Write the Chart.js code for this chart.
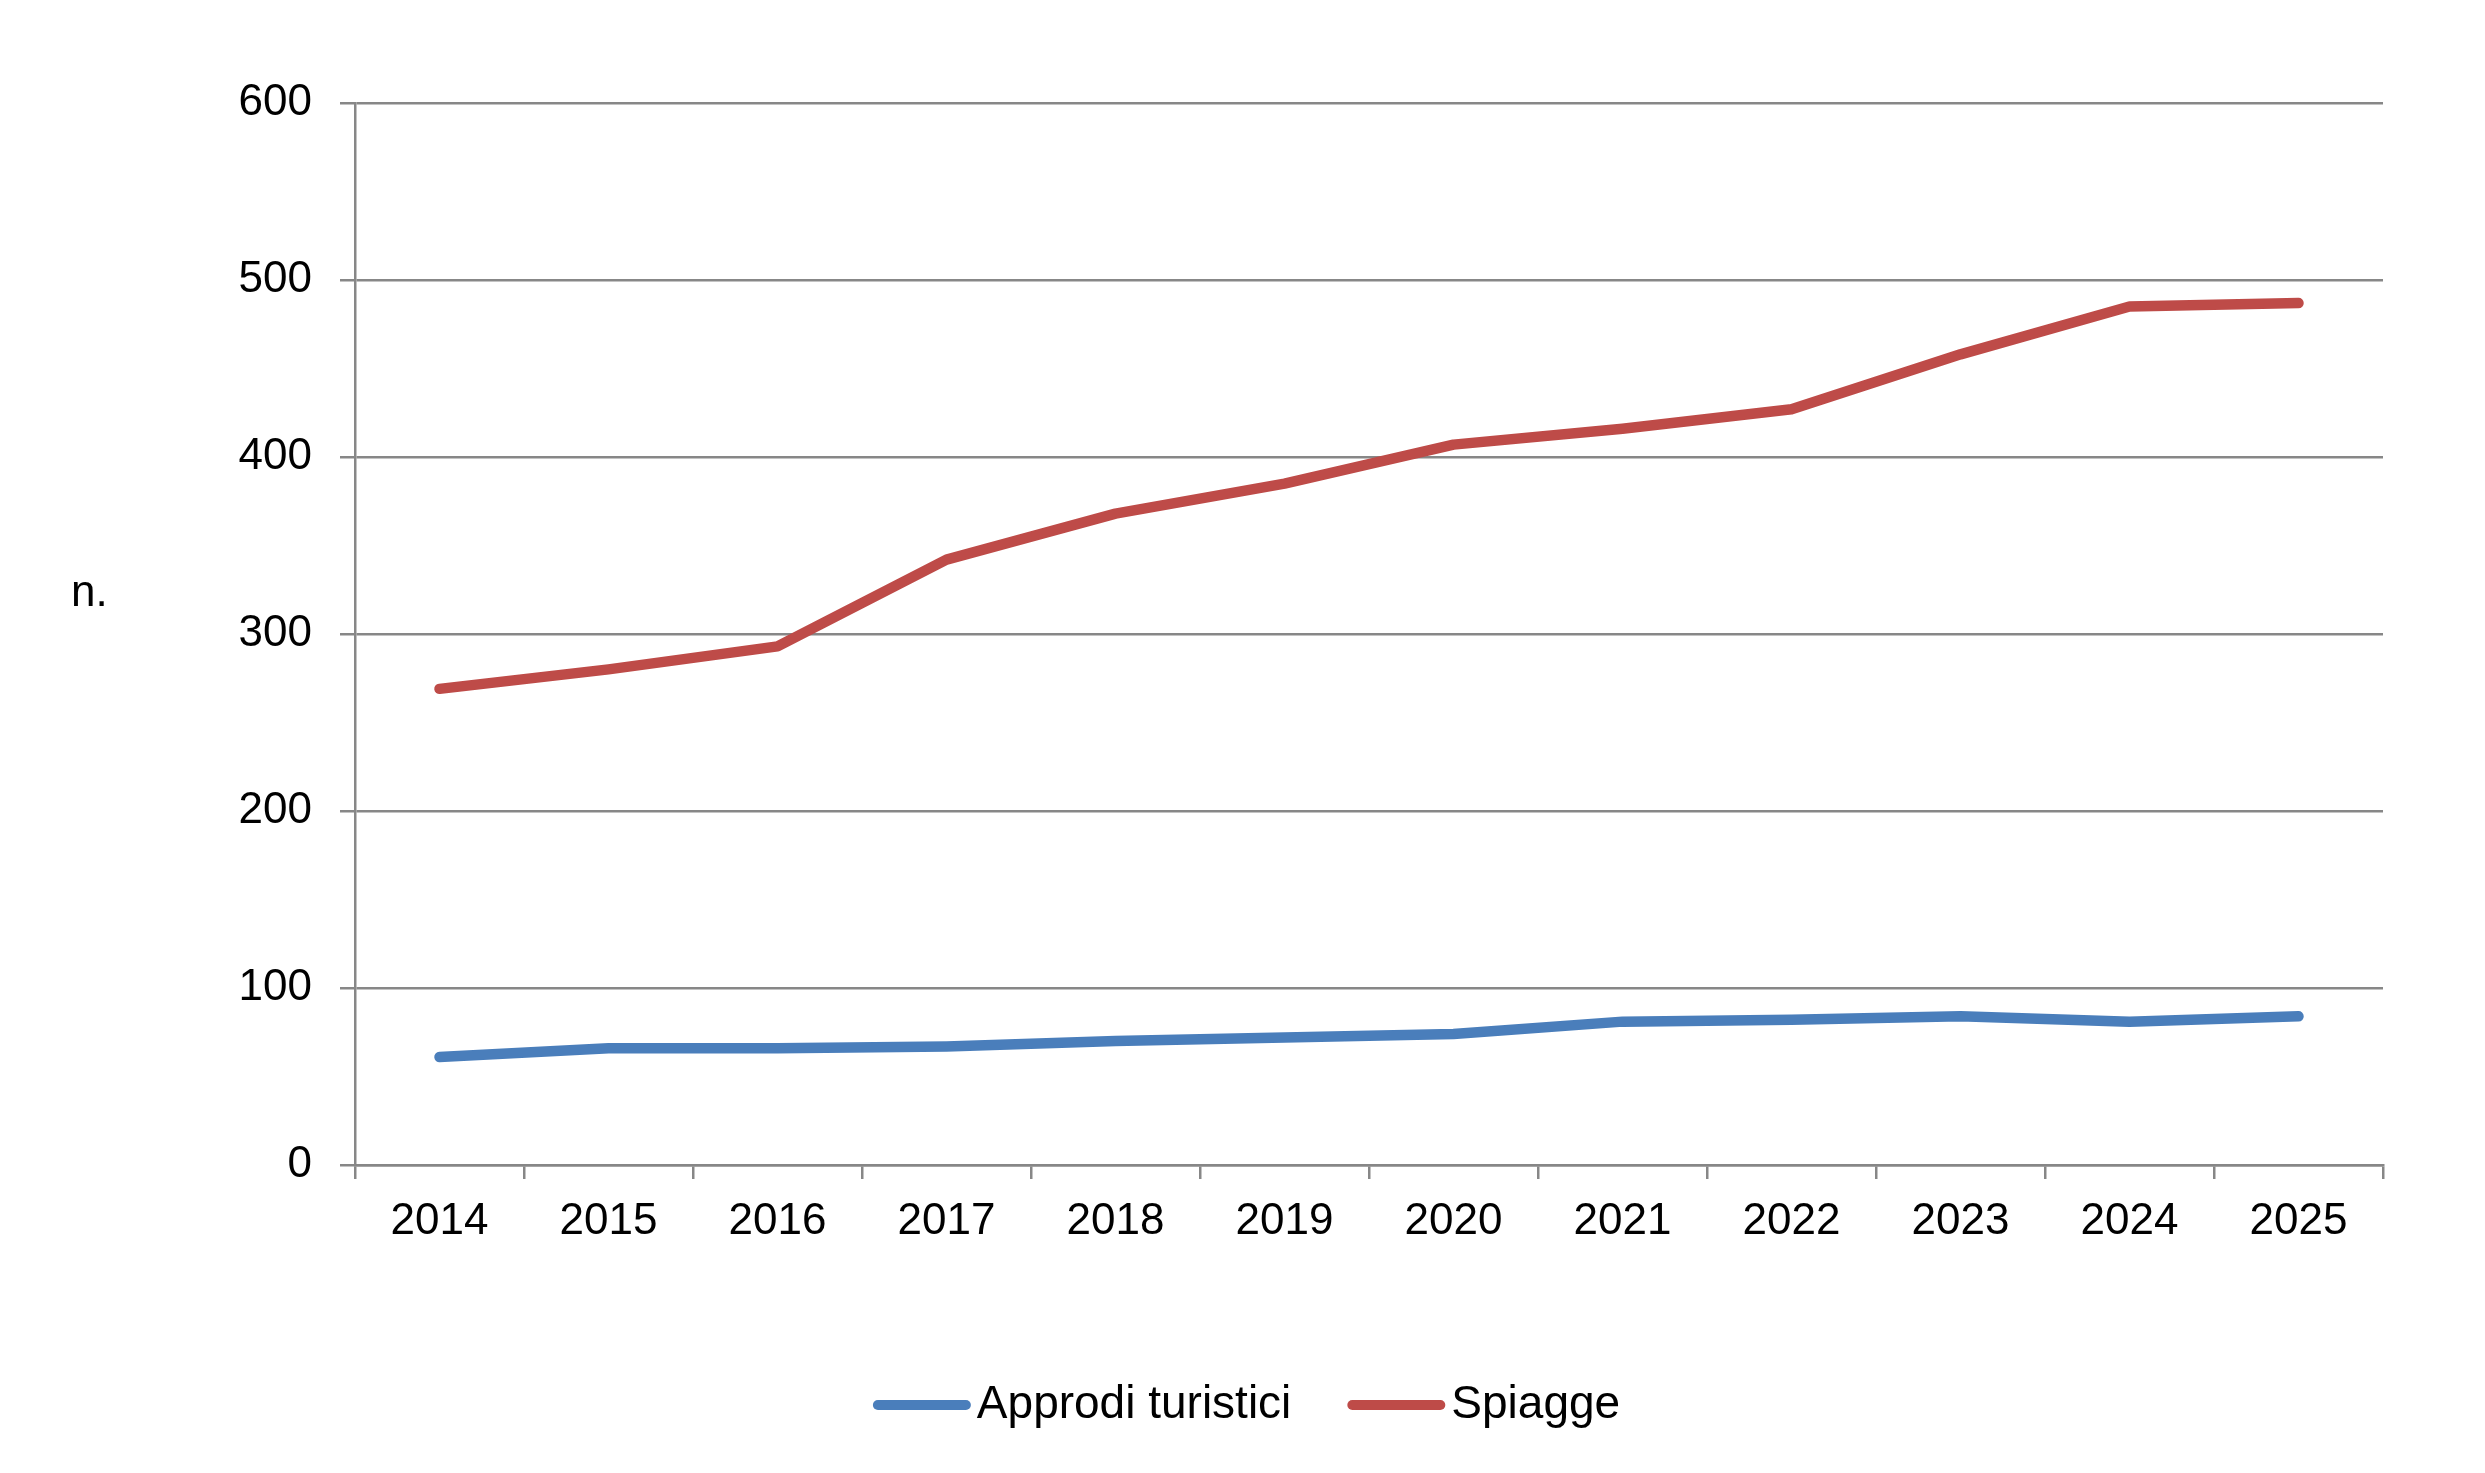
<!DOCTYPE html>
<html lang="it">
<head>
<meta charset="utf-8">
<title>Approdi turistici e spiagge</title>
<script src="https://cdn.jsdelivr.net/npm/chart.js@4.4.1/dist/chart.umd.min.js"></script>
<style>
  html, body { margin: 0; padding: 0; background: #ffffff; }
  #chart { display: block; }
</style>
</head>
<body>
<canvas id="chart" width="2485" height="1473"></canvas>
<script>
'use strict';

// Dati
const years = ['2014', '2015', '2016', '2017', '2018', '2019', '2020', '2021', '2022', '2023', '2024', '2025'];
const approdi = [61, 66, 66, 67, 70, 72, 74, 81, 82, 84, 81, 84];
const spiagge = [269, 280, 293, 342, 368, 385, 407, 416, 427, 458, 485, 487];
const yTicks = [0, 100, 200, 300, 400, 500, 600];

const FONT = 'Liberation Sans, Arial, Helvetica, sans-serif';
const GRID = '#878787';

// testo "n." a sinistra dell'asse y
const unitLabel = {
  id: 'unitLabel',
  afterDraw(chart) {
    const ctx = chart.ctx;
    ctx.save();
    ctx.font = '44px ' + FONT;
    ctx.fillStyle = '#000';
    ctx.textAlign = 'left';
    ctx.textBaseline = 'middle';
    ctx.fillText('n.', 71, 594);
    ctx.restore();
  }
};

// legenda in basso, stile Excel (linea corta + testo vicino)
const bottomLegend = {
  id: 'bottomLegend',
  afterDraw(chart) {
    const ctx = chart.ctx;
    const sets = chart.data.datasets;
    const lineLen = 98, gapText = 6, gapItem = 56, cy = 1405;
    ctx.save();
    ctx.font = '46px ' + FONT;
    const widths = sets.map(ds => lineLen + gapText + ctx.measureText(ds.label).width);
    const total = widths.reduce((a, b) => a + b, 0) + gapItem * (sets.length - 1);
    let x = chart.width / 2 - total / 2 + 4;
    sets.forEach((ds, i) => {
      ctx.strokeStyle = ds.borderColor;
      ctx.lineWidth = 10;
      ctx.lineCap = 'round';
      ctx.beginPath();
      ctx.moveTo(x + 5, cy);
      ctx.lineTo(x + lineLen - 5, cy);
      ctx.stroke();
      ctx.fillStyle = '#000';
      ctx.textAlign = 'left';
      ctx.textBaseline = 'middle';
      ctx.fillText(ds.label, x + lineLen + gapText, cy);
      x += widths[i] + gapItem;
    });
    ctx.restore();
  }
};

new Chart(document.getElementById('chart'), {
  type: 'line',
  data: {
    labels: years,
    datasets: [
      {
        label: 'Approdi turistici',
        data: approdi,
        borderColor: '#4A7EBB',
        backgroundColor: '#4A7EBB',
        borderWidth: 10.5,
      },
      {
        label: 'Spiagge',
        data: spiagge,
        borderColor: '#BE4B48',
        backgroundColor: '#BE4B48',
        borderWidth: 10.5,
      },
    ],
  },
  options: {
    responsive: false,
    animation: false,
    devicePixelRatio: 1,
    elements: {
      point: { radius: 0, hoverRadius: 0 },
      line: { tension: 0, borderCapStyle: 'round', borderJoinStyle: 'round' },
    },
    layout: { padding: { top: 103, right: 102, bottom: 151, left: 0 } },
    plugins: {
      tooltip: { enabled: false },
      legend: { display: false },
    },
    scales: {
      x: {
        offset: true,
        grid: {
          offset: true,
          drawOnChartArea: false,
          drawTicks: true,
          tickLength: 14,
          color: GRID,
          lineWidth: 2.5,
        },
        border: { color: GRID, width: 2.5 },
        ticks: {
          color: '#000',
          padding: 16,
          maxRotation: 0,
          font: { family: FONT, size: 44 },
        },
        afterFit(scale) { scale.height = 157; },
      },
      y: {
        min: 0,
        max: 600,
        afterBuildTicks(scale) { scale.ticks = yTicks.map(v => ({ value: v })); },
        grid: {
          color: GRID,
          lineWidth: 2.5,
          tickLength: 15,
        },
        border: { color: GRID, width: 2.5 },
        ticks: {
          color: '#000',
          padding: 28,
          font: { family: FONT, size: 44 },
        },
        afterFit(scale) { scale.width = 355; },
      },
    },
  },
  plugins: [unitLabel, bottomLegend],
});
</script>
</body>
</html>
